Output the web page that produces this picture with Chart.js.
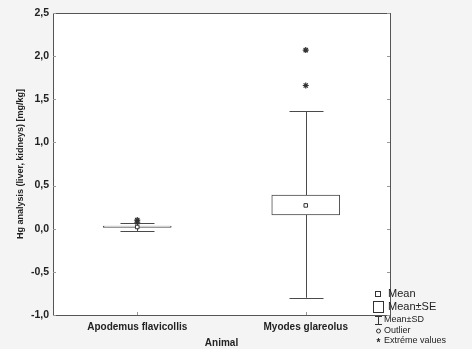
<!DOCTYPE html>
<html>
<head>
<meta charset="utf-8">
<script src="https://cdn.jsdelivr.net/npm/chart.js@4"></script>
<style>
  body { margin: 0; background: #f4f4f4; }
  .chart_container { width: 472px; height: 349px; position: relative; }
</style>
</head>
<body>
<div class="chart_container"><canvas id="hgChart"></canvas></div>
<script>
const animals = ["Apodemus flavicollis", "Myodes glareolus"];
const means = [0.02, 0.27];
const seLow = [0.015, 0.16];
const seHigh = [0.03, 0.39];
const sdLow = [-0.03, -0.8];
const sdHigh = [0.065, 1.36];
const extremeAnimal = ["Apodemus flavicollis", "Apodemus flavicollis", "Myodes glareolus", "Myodes glareolus"];
const extremeValues = [0.1, 0.075, 2.07, 1.66];
const yTicks = [2.5, 2.0, 1.5, 1.0, 0.5, 0.0, -0.5, -1.0];
const legendLabels = ["Mean", "Mean±SE", "Mean±SD", "Outlier", "Extréme values"];

const lineColor = "#4a4a4a";

// whiskers, frame, ticks and legend drawn with the chart's own scales
const statPlugin = {
    id: "statPlugin",
    beforeDatasetsDraw(chart) {
        const ctx = chart.ctx;
        const x = chart.scales.x;
        const y = chart.scales.y;
        ctx.save();
        ctx.strokeStyle = lineColor;
        ctx.lineWidth = 1;
        animals.forEach((a, i) => {
            const cx = Math.round(x.getPixelForValue(i)) + 0.5;
            const top = y.getPixelForValue(sdHigh[i]);
            const bot = y.getPixelForValue(sdLow[i]);
            ctx.beginPath();
            ctx.moveTo(cx, top);
            ctx.lineTo(cx, bot);
            ctx.moveTo(cx - 17, Math.round(top) + 0.5);
            ctx.lineTo(cx + 17, Math.round(top) + 0.5);
            ctx.moveTo(cx - 17, Math.round(bot) + 0.5);
            ctx.lineTo(cx + 17, Math.round(bot) + 0.5);
            ctx.stroke();
        });
        ctx.restore();
    },
    afterDraw(chart) {
        const ctx = chart.ctx;
        const area = chart.chartArea;
        const x = chart.scales.x;
        const y = chart.scales.y;
        ctx.save();
        ctx.strokeStyle = "#555";
        ctx.lineWidth = 1;
        ctx.strokeRect(Math.round(area.left) + 0.5, Math.round(area.top) + 0.5,
            Math.round(area.right - area.left), Math.round(area.bottom - area.top));
        ctx.strokeStyle = "#999";
        ctx.beginPath();
        yTicks.forEach((v) => {
            const py = Math.round(y.getPixelForValue(v)) + 0.5;
            ctx.moveTo(area.left, py);
            ctx.lineTo(area.left + 3, py);
            ctx.moveTo(area.right, py);
            ctx.lineTo(area.right - 3, py);
        });
        animals.forEach((a, i) => {
            const px = Math.round(x.getPixelForValue(i)) + 0.5;
            ctx.moveTo(px, area.bottom);
            ctx.lineTo(px, area.bottom - 3);
        });
        ctx.stroke();

        // legend
        const lx = 378;
        const rows = [294, 307, 320, 331, 341];
        const sizes = [11, 11, 9, 9, 9];
        ctx.strokeStyle = "#333";
        ctx.fillStyle = "#222";
        ctx.lineWidth = 1;
        ctx.strokeRect(lx - 2.5, rows[0] - 2.5, 5, 5);
        ctx.strokeRect(lx - 4.5, rows[1] - 5.5, 10, 11);
        ctx.beginPath();
        ctx.moveTo(lx + 0.5, rows[2] - 4);
        ctx.lineTo(lx + 0.5, rows[2] + 4);
        ctx.moveTo(lx - 3, rows[2] - 4 + 0.5);
        ctx.lineTo(lx + 4, rows[2] - 4 + 0.5);
        ctx.moveTo(lx - 3, rows[2] + 4 + 0.5);
        ctx.lineTo(lx + 4, rows[2] + 4 + 0.5);
        ctx.stroke();
        ctx.beginPath();
        ctx.arc(lx + 0.5, rows[3], 2, 0, Math.PI * 2);
        ctx.stroke();
        ctx.font = "bold 10px 'Liberation Sans', Arial";
        ctx.textAlign = "center";
        ctx.textBaseline = "middle";
        ctx.fillText("*", lx + 0.5, rows[4] + 2);
        ctx.textAlign = "left";
        legendLabels.forEach((label, i) => {
            ctx.font = sizes[i] + "px 'Liberation Sans', Arial";
            ctx.fillText(label, i < 2 ? 388 : 384, rows[i]);
        });
        ctx.restore();
    },
};

const chartAreaBg = {
    id: "chartAreaBg",
    beforeDraw(chart) {
        const a = chart.chartArea;
        chart.ctx.save();
        chart.ctx.fillStyle = "#ffffff";
        chart.ctx.fillRect(a.left, a.top, a.right - a.left, a.bottom - a.top);
        chart.ctx.restore();
    },
};

const boxData = animals.map((a, i) => [seLow[i], seHigh[i]]);

const hgChart = new Chart("hgChart", {
    type: "bar",
    data: {
        labels: animals,
        datasets: [
            {
                label: "Mean±SE",
                data: boxData,
                backgroundColor: "#ffffff",
                borderColor: lineColor,
                borderWidth: 1,
                borderSkipped: false,
                barThickness: 68,
                order: 3,
            },
            {
                type: "line",
                label: "Mean",
                data: means,
                showLine: false,
                pointStyle: "rect",
                pointRadius: 2.5,
                pointBorderWidth: 1,
                pointBackgroundColor: "#ffffff",
                pointBorderColor: "#333",
                order: 1,
            },
            {
                type: "line",
                label: "Extréme values",
                data: extremeAnimal.map((a, i) => ({ x: a, y: extremeValues[i] })),
                showLine: false,
                pointStyle: "star",
                pointRadius: 3,
                pointBorderWidth: 1.2,
                pointBorderColor: "#333",
                order: 0,
            },
        ],
    },
    options: {
        responsive: true,
        maintainAspectRatio: false,
        animation: false,
        layout: { padding: { top: 13, right: 82, left: 0, bottom: 0 } },
        plugins: {
            legend: { display: false },
            tooltip: { enabled: false },
        },
        scales: {
            x: {
                grid: { display: false, drawTicks: false, tickLength: 0 },
                border: { display: false },
                ticks: {
                    color: "#222",
                    font: { family: "'Liberation Sans', Arial", size: 10, weight: "bold" },
                    padding: 6,
                    maxRotation: 0,
                },
                title: {
                    display: true,
                    text: "Animal",
                    color: "#222",
                    font: { family: "'Liberation Sans', Arial", size: 10, weight: "bold" },
                    padding: { top: 2, bottom: 0 },
                },
                afterFit(scale) { scale.height = 34; },
            },
            y: {
                min: -1.0,
                max: 2.5,
                grid: { display: false, drawTicks: false, tickLength: 0 },
                border: { display: false },
                afterBuildTicks(scale) { scale.ticks = yTicks.map((v) => ({ value: v })); },
                ticks: {
                    color: "#222",
                    font: { family: "'Liberation Sans', Arial", size: 10.5, weight: "bold" },
                    padding: 4,
                    callback: (v) => v.toFixed(1).replace(".", ","),
                },
                title: {
                    display: true,
                    text: "Hg analysis (liver, kidneys) [mg/kg]",
                    color: "#222",
                    font: { family: "'Liberation Sans', Arial", size: 9, weight: "bold" },
                    padding: { top: 15, bottom: 0 },
                },
                afterFit(scale) { scale.width = 53; },
            },
        },
    },
    plugins: [chartAreaBg, statPlugin],
});
</script>
</body>
</html>
